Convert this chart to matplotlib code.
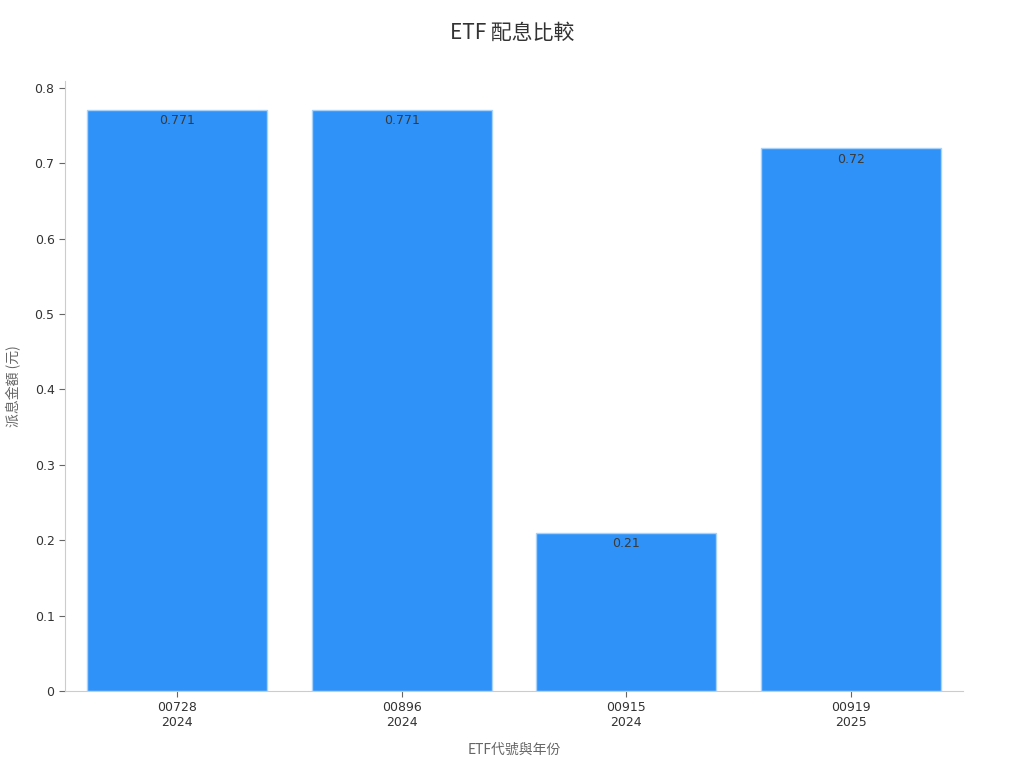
import matplotlib.pyplot as plt

plt.rcParams['font.family'] = ['Noto Sans CJK TC', 'DejaVu Sans']

codigos = ['00728', '00896', '00915', '00919']
anios = ['2024', '2024', '2024', '2025']
dividendos = [0.771, 0.771, 0.21, 0.72]
etiquetas = ['0.771', '0.771', '0.21', '0.72']

fig = plt.figure(figsize=(10.24, 7.68), dpi=100)
ax = fig.add_axes([0.0635, 0.1003, 0.877, 0.7942])

x = range(len(codigos))
barras = ax.bar(x, dividendos, width=0.8, color='#2f92f8', edgecolor='#a9d2fb', linewidth=1)

for b, txt in zip(barras, etiquetas):
    ax.text(b.get_x() + b.get_width() / 2, b.get_height() - 0.006, txt,
            ha='center', va='top', fontsize=9, color='#3a3a3a', family='DejaVu Sans')

ax.set_xlim(-0.5, 3.5)
ax.set_ylim(0, 0.809)
ax.set_yticks([0, 0.1, 0.2, 0.3, 0.4, 0.5, 0.6, 0.7, 0.8])
ax.set_yticklabels(['0', '0.1', '0.2', '0.3', '0.4', '0.5', '0.6', '0.7', '0.8'], family='DejaVu Sans')
ax.set_xticks(list(x))
ax.set_xticklabels([c + '\n' + a for c, a in zip(codigos, anios)], family='DejaVu Sans')
ax.tick_params(axis='both', labelsize=9, colors='#333333', length=4)
ax.tick_params(axis='both', color='#666666')

for s in ['top', 'right']:
    ax.spines[s].set_visible(False)
for s in ['left', 'bottom']:
    ax.spines[s].set_color('#cccccc')

ax.set_xlabel('ETF代號與年份', fontsize=10, color='#666666', labelpad=10)
ax.set_ylabel('派息金額 (元)', fontsize=10, color='#666666', labelpad=10)
fig.suptitle('ETF 配息比較', fontsize=15, color='#333333', y=0.972)

fig.savefig('out.png', dpi=100)
